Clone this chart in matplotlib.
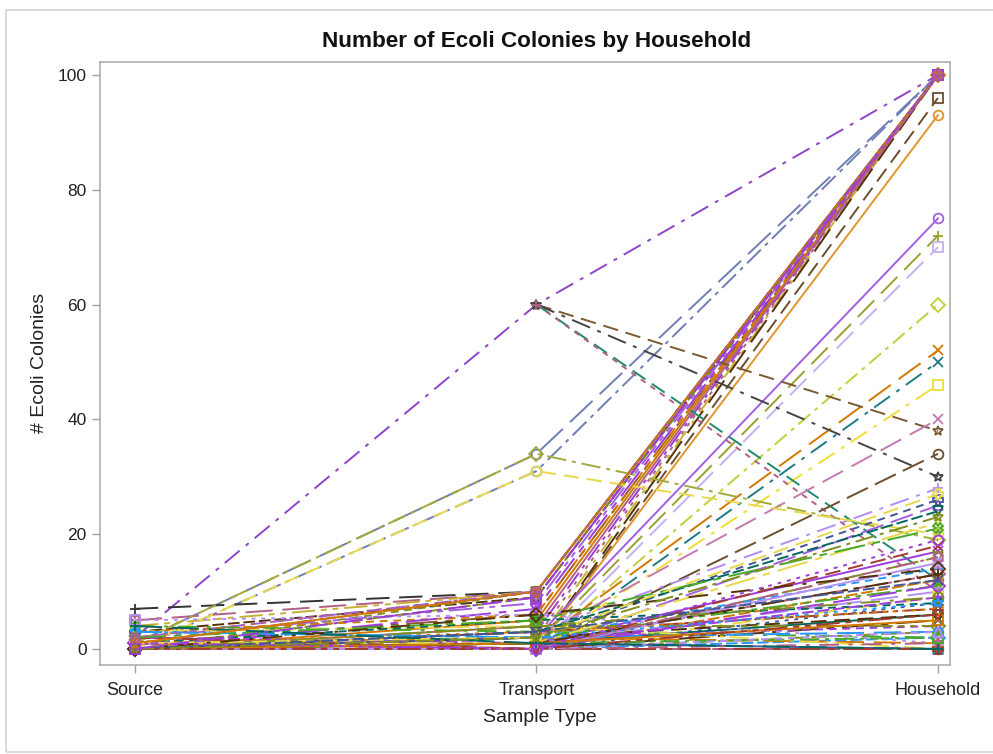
import numpy as np
import matplotlib
matplotlib.use("Agg")
import matplotlib.pyplot as plt
from matplotlib.patches import Rectangle

plt.rcParams['font.family'] = ['Liberation Sans', 'DejaVu Sans']

categories = ["Source", "Transport", "Household"]
nan = np.nan

# colony counts per household (Source, Transport, Household)
source = [2, 1, 0, 7, 5, 4, 3, 2, 0, 1, 0, 0, 0, 1, 0, 2, 0, 1, 3, 0, 0,
          0, 1, 0, 0, 0, 1, 0, 0, 0, nan, nan, nan, nan, 0, 0, 0, 0, 1, 0,
          0, 0, 0, 0, 1, 0, 0, 0, 0, 0, 0, 0, 0, 0, 0, 2, 1, 4, 5, 3, 0, 0,
          1, 0, 2, 0, 3, 0, 1, 0,
          0, 1, 0, 2, 0, 0, 1, 0, 3, 0, 0, 2, 0, 1, 0, 0, 4, 0, 1, 0,
          1, 0, 2]
transport = [60, 34, 31, 10, 10, 10, 9, 10, 10, 6, 5, 3, 2, 1, 0, 8, 9, 10, 6, 7, 4,
             0, 0, 2, 1, 0, 0, 1, 0, 0, 60, 60, 60, 60, 2, 0, 3, 0, 34, 31,
             1, 0, 2, 1, 0, 2, 1, 0, 0, 3, 1, 0, 2, 0, 0, 0, 2, 3, 6, 4, 1, 0,
             5, 2, 1, 4, 2, 0, 3, 1,
             0, 1, 2, 0, 3, 1, 0, 4, 2, 0, 1, 5, 0, 2, 3, 0, 1, 6, 0, 2,
             10, 9, 10]
household = [100, 100, 100, 100, 100, 100, 100, 100, 100, 100, 100, 100, 100, 100, 100, 100, 100, 100, 100, 100, 100,
             96, 93, 75, 72, 70, 60, 52, 50, 46, 38, 30, 12, 10, 40, 34, 28, 25, 19, 20,
             17, 16, 14, 13, 12, 11, 10, 9, 8, 7, 6, 5, 4, 3, 2, 0, 1, 2, 1, 0, 0, 0,
             8, 6, 9, 4, 3, 1, 7, 2,
             15, 22, 26, 18, 24, 13, 11, 9, 8, 16, 5, 21, 3, 27, 12, 6, 0, 14, 19, 23,
             100, 100, 100]

palette = ["#445694", "#A23A2E", "#01665E", "#543005", "#9D3CDB", "#7F8E1F",
           "#2597FA", "#B26084", "#D17800", "#47A82A", "#B38EF3", "#E8D84C"]
bundle = ["#7F8E1F", "#8B5A2B", "#D17800", "#9D3CDB", "#B26084", "#C8B030",
          "#543005", "#A25FE0"]
dashes = ['-', (0, (8, 4)), (0, (14, 5)), (0, (10, 3, 2, 3)), (0, (4, 3)),
          (0, (12, 3, 3, 3, 3, 3)), (0, (2, 3)), (0, (16, 4, 4, 4)),
          (0, (6, 2)), (0, (10, 5, 2, 5))]
markers = ['o', '+', 'x', '^', 's', '*', 'D', 'v', 'P', 'X', 'h']

overrides = {
    0: ("#8E44C9", (0, (10, 4, 2, 4)), '*'),
    1: ("#6F7EB3", (0, (16, 5)), 'o'),
    2: ("#6F7EB3", (0, (10, 3, 2, 3)), 'o'),
    3: ("#333333", (0, (12, 5)), '+'),
    21: ("#6B4E2E", (0, (8, 4)), 's'),
    22: ("#E0952E", '-', 'o'),
    23: ("#A25FE0", '-', 'o'),
    24: ("#9AA030", (0, (12, 5)), '+'),
    25: ("#C5B0F0", (0, (12, 5)), 's'),
    26: ("#C2CF3A", (0, (8, 3, 2, 3)), 'D'),
    27: ("#D17800", (0, (14, 5)), 'x'),
    28: ("#1F7A83", (0, (10, 4, 2, 4)), 'x'),
    29: ("#F0DD3A", (0, (10, 4, 2, 4)), 's'),
    30: ("#7A5A33", (0, (8, 4)), '*'),
    31: ("#444444", (0, (10, 4, 2, 4)), '*'),
    32: ("#1F8A6E", (0, (8, 4)), '+'),
    33: ("#B26084", (0, (3, 3)), '+'),
    34: ("#C47AAE", (0, (12, 5)), 'x'),
    35: ("#6B4E2E", (0, (12, 4)), 'o'),
    36: ("#B38EF3", (0, (10, 4, 2, 4)), '+'),
    37: ("#A25FE0", (0, (12, 4)), '^'),
    38: ("#A4A93A", (0, (10, 3, 2, 3)), 'D'),
    39: ("#E8D84C", (0, (8, 4)), 'o'),
}

assert len(source) == len(transport) == len(household)

fig = plt.figure(figsize=(9.93, 7.54), dpi=100)
fig.patches.append(Rectangle((6 / 993, 2 / 754), 1.2, 742 / 754, transform=fig.transFigure,
                             fill=False, edgecolor="#D0D4D8", linewidth=1.2, figure=fig))
ax = fig.add_axes([100 / 993, 1 - 665 / 754, 850 / 993, 603 / 754])

x = np.arange(len(categories))
for i in range(len(household)):
    y = np.array([source[i], transport[i], household[i]], dtype=float)
    if i in overrides:
        c, ls, mk = overrides[i]
    elif household[i] >= 99:
        c = bundle[i % len(bundle)]
        ls = dashes[(i * 3) % len(dashes)]
        mk = markers[(i * 5) % len(markers)]
    else:
        c = palette[i % 12]
        ls = dashes[(i * 7) % len(dashes)]
        mk = markers[(i * 5) % len(markers)]
    ax.plot(x, y, color=c, linestyle=ls, linewidth=1.4, marker=mk, markersize=7,
            markerfacecolor='none', markeredgewidth=1.3, zorder=2)

ax.set_xlim(-0.087, 2.03)
ax.set_ylim(-2.79, 102.26)
ax.set_xticks(x)
ax.set_xticklabels(categories)
ax.set_yticks([0, 20, 40, 60, 80, 100])
ax.tick_params(axis='both', colors="#A0A0A0", labelcolor="#222222",
               length=6, width=1)
ax.tick_params(axis='y', labelsize=12.5)
ax.tick_params(axis='x', labelsize=13, pad=6)
for s in ax.spines.values():
    s.set_color("#A8A8A8")
    s.set_linewidth(1.1)

fig.text(540 / 993, 1 - 718 / 754, "Sample Type", fontsize=14, color="#222222",
         ha='center', va='center')
fig.text(40 / 993, 1 - 363 / 754, "# Ecoli Colonies", fontsize=14, color="#222222",
         ha='center', va='center', rotation=90)
fig.text(537 / 993, 1 - 41 / 754, "Number of Ecoli Colonies by Household", fontsize=16.2,
         fontweight='bold', color="#111111", ha='center', va='center')

fig.savefig("out.png", dpi=100)
